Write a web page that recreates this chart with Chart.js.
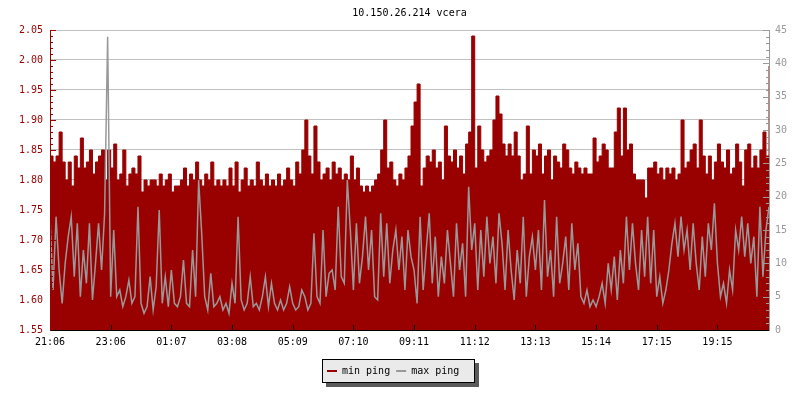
<!DOCTYPE html>
<html>
<head>
<meta charset="utf-8">
<script src="https://cdn.jsdelivr.net/npm/chart.js@4.4.0/dist/chart.umd.min.js"></script>
<style>
html, body { margin: 0; padding: 0; background: #fff; }
#c { display: block; }
</style>
</head>
<body>
<canvas id="c" width="800" height="400"></canvas>
<script>
// one sample = 6 minutes, one labelled tick = 20 samples
var chartTitle = '10.150.26.214 vcera';
var timeLabels = ['21:06', '23:06', '01:07', '03:08', '05:09', '07:10', '09:11', '11:12', '13:13', '15:14', '17:15', '19:15'];
var leftTicks = [1.55, 1.60, 1.65, 1.70, 1.75, 1.80, 1.85, 1.90, 1.95, 2.00, 2.05];
var rightTicks = [0, 5, 10, 15, 20, 25, 30, 35, 40, 45];

var minPing = [
  1.84, 1.83, 1.84, 1.88, 1.83, 1.80, 1.83, 1.79, 1.84, 1.82, 1.87, 1.82, 1.83, 1.85, 1.81, 1.83, 1.84, 1.85, 1.80, 1.85,
  1.82, 1.86, 1.80, 1.81, 1.85, 1.79, 1.81, 1.82, 1.81, 1.84, 1.78, 1.80, 1.79, 1.80, 1.80, 1.79, 1.81, 1.79, 1.80, 1.81,
  1.78, 1.79, 1.79, 1.80, 1.82, 1.79, 1.81, 1.80, 1.83, 1.80, 1.79, 1.81, 1.80, 1.83, 1.79, 1.80, 1.79, 1.80, 1.79, 1.82,
  1.79, 1.83, 1.78, 1.80, 1.82, 1.79, 1.80, 1.79, 1.83, 1.80, 1.79, 1.81, 1.79, 1.80, 1.79, 1.81, 1.79, 1.80, 1.82, 1.80,
  1.79, 1.83, 1.81, 1.85, 1.90, 1.84, 1.81, 1.89, 1.83, 1.80, 1.81, 1.82, 1.80, 1.83, 1.81, 1.82, 1.80, 1.81, 1.80, 1.84,
  1.80, 1.82, 1.79, 1.78, 1.79, 1.78, 1.79, 1.80, 1.81, 1.85, 1.90, 1.82, 1.83, 1.80, 1.79, 1.81, 1.80, 1.82, 1.84, 1.89,
  1.93, 1.96, 1.79, 1.82, 1.84, 1.83, 1.85, 1.82, 1.83, 1.80, 1.89, 1.84, 1.83, 1.85, 1.82, 1.84, 1.81, 1.86, 1.88, 2.04,
  1.82, 1.89, 1.85, 1.83, 1.84, 1.85, 1.90, 1.94, 1.91, 1.86, 1.84, 1.86, 1.84, 1.88, 1.84, 1.80, 1.81, 1.89, 1.81, 1.85,
  1.84, 1.86, 1.81, 1.84, 1.85, 1.80, 1.84, 1.83, 1.82, 1.86, 1.85, 1.82, 1.81, 1.83, 1.82, 1.81, 1.82, 1.81, 1.81, 1.87,
  1.83, 1.84, 1.86, 1.85, 1.82, 1.82, 1.88, 1.92, 1.84, 1.92, 1.85, 1.86, 1.81, 1.80, 1.80, 1.80, 1.77, 1.82, 1.82, 1.83,
  1.81, 1.82, 1.80, 1.82, 1.81, 1.82, 1.80, 1.81, 1.90, 1.82, 1.83, 1.85, 1.86, 1.82, 1.90, 1.84, 1.81, 1.84, 1.80, 1.83,
  1.86, 1.83, 1.82, 1.85, 1.81, 1.82, 1.86, 1.83, 1.79, 1.85, 1.86, 1.82, 1.84, 1.82, 1.85, 1.88, 1.84, 1.99
];

var maxPing = [
  17, 6, 17, 9, 4, 10, 14, 17, 8, 16, 5, 12, 7, 16, 4.5, 10, 16, 9, 17.5, 44,
  5, 15, 5, 6, 3.5, 5, 7.5, 4, 5, 18.5, 4, 2.5, 3.5, 8, 3, 6.5, 18, 4, 8, 3.5,
  9, 4, 3.5, 5, 10.5, 4, 3.5, 12, 5, 22.5, 14.5, 5, 3, 8.5, 3.5, 4, 5, 3, 4, 2.5,
  7, 4, 17, 4.5, 3, 4, 8, 3.5, 4, 3, 5, 8, 3.5, 7, 4, 3, 4.5, 3, 4, 6.5,
  4, 3, 3.5, 6, 5, 3, 4, 14.5, 5, 4, 15, 5, 8.5, 9, 6, 18.5, 8, 7, 22.5, 15,
  6, 16, 7, 11, 17, 9, 15, 5, 4.5, 17.5, 8, 16, 7, 12, 15, 9, 14, 6, 15, 11,
  9, 4, 17, 6, 12, 17.5, 7, 14, 5, 11, 7, 15, 10, 5, 16, 9, 13, 5, 21.5, 12,
  16, 6, 15, 8, 17, 10, 14, 7, 17.5, 13, 6, 15, 9, 4.5, 12, 7, 17, 5, 11, 14,
  9, 15, 6, 19.5, 8, 12, 5, 17, 7, 10, 14, 6, 16, 9, 13, 5, 4, 6, 3.5, 4.5,
  3.5, 5, 7, 4, 10, 6, 11, 4.5, 12, 7, 17, 9, 16, 10, 6, 15, 8, 17, 7, 15,
  5, 8, 4, 6, 9, 13, 16, 11, 17, 12, 15, 9, 16, 10, 6, 14, 8, 16, 12, 19,
  10, 5, 7, 4, 9, 6, 15, 12, 17, 11, 16, 10, 14, 5, 18.5, 8, 15, 18.5
];

var RED = '#990000';
var GREY = '#999999';
var FONT = 'DejaVu Sans Mono';

function points(arr) {
  return arr.map(function (v, i) { return { x: i, y: v }; });
}

// title centred over the plot, not the canvas
var plotTitle = {
  id: 'plotTitle',
  afterDraw: function (chart) {
    var ctx = chart.ctx, a = chart.chartArea;
    ctx.save();
    ctx.font = '10px "' + FONT + '"';
    ctx.fillStyle = '#000';
    ctx.textAlign = 'center';
    ctx.textBaseline = 'middle';
    ctx.fillText(chartTitle, (a.left + a.right) / 2, 13);
    ctx.restore();
  }
};

// short tick marks pointing into the plot, major + 4 minor per step
var innerTicks = {
  id: 'innerTicks',
  afterDatasetsDraw: function (chart) {
    var ctx = chart.ctx, a = chart.chartArea;
    var ys = chart.scales.y, y2 = chart.scales.y2, xs = chart.scales.x;
    var k, py, px;
    ctx.save();
    ctx.lineWidth = 1;

    var ls = (leftTicks[1] - leftTicks[0]) / 5;
    ctx.strokeStyle = RED;
    ctx.beginPath();
    for (k = 0; k <= (leftTicks.length - 1) * 5; k++) {
      py = Math.round(ys.getPixelForValue(leftTicks[0] + k * ls)) + 0.5;
      ctx.moveTo(a.left, py);
      ctx.lineTo(a.left + (k % 5 ? 3 : 6), py);
    }
    ctx.stroke();

    var rs = (rightTicks[1] - rightTicks[0]) / 5;
    ctx.strokeStyle = GREY;
    ctx.beginPath();
    for (k = 0; k <= (rightTicks.length - 1) * 5; k++) {
      py = Math.round(y2.getPixelForValue(rightTicks[0] + k * rs)) + 0.5;
      ctx.moveTo(a.right, py);
      ctx.lineTo(a.right - (k % 5 ? 3 : 6), py);
    }
    ctx.stroke();

    ctx.strokeStyle = '#000';
    ctx.beginPath();
    for (k = 0; k < timeLabels.length; k++) {
      px = Math.round(xs.getPixelForValue(k * 20)) + 0.5;
      ctx.moveTo(px, a.bottom);
      ctx.lineTo(px, a.bottom - 5);
    }
    ctx.stroke();
    ctx.restore();
  }
};

// framed legend with drop shadow below the plot
var boxLegend = {
  id: 'boxLegend',
  afterDraw: function (chart) {
    var ctx = chart.ctx;
    var x = 322, y = 359, w = 153, h = 24;
    ctx.save();
    ctx.fillStyle = '#5a5a5a';
    ctx.fillRect(x + 4, y + 4, w, h);
    ctx.fillStyle = '#eaeaea';
    ctx.fillRect(x, y, w, h);
    ctx.strokeStyle = '#000';
    ctx.lineWidth = 1;
    ctx.strokeRect(x + 0.5, y + 0.5, w - 1, h - 1);
    ctx.font = '10px "' + FONT + '"';
    ctx.textBaseline = 'middle';
    var cx = x + 5, cy = y + 12;
    chart.data.datasets.forEach(function (ds) {
      ctx.strokeStyle = ds.borderColor;
      ctx.lineWidth = 2;
      ctx.beginPath();
      ctx.moveTo(cx, cy);
      ctx.lineTo(cx + 10, cy);
      ctx.stroke();
      ctx.fillStyle = '#000';
      ctx.fillText(ds.label, cx + 15, cy);
      cx += 15 + ctx.measureText(ds.label).width + 6;
    });
    ctx.restore();
  }
};

new Chart(document.getElementById('c'), {
  type: 'line',
  data: {
    datasets: [
      {
        label: 'min ping',
        data: points(minPing),
        yAxisID: 'y',
        borderColor: RED,
        backgroundColor: RED,
        borderWidth: 1,
        pointRadius: 0,
        stepped: true,
        fill: 'start',
        order: 2
      },
      {
        label: 'max ping',
        data: points(maxPing),
        yAxisID: 'y2',
        borderColor: GREY,
        backgroundColor: GREY,
        borderWidth: 1.5,
        pointRadius: 0,
        tension: 0,
        fill: false,
        order: 1
      }
    ]
  },
  options: {
    responsive: false,
    animation: false,
    layout: { padding: { top: 30, left: 0, right: 0, bottom: 45 } },
    plugins: {
      legend: { display: false },
      tooltip: { enabled: false },
      title: { display: false }
    },
    scales: {
      x: {
        type: 'linear',
        min: 0,
        max: minPing.length - 1,
        afterBuildTicks: function (s) {
          s.ticks = timeLabels.map(function (t, i) { return { value: i * 20 }; });
        },
        afterFit: function (s) { s.height = 25; },
        ticks: {
          autoSkip: false,
          maxRotation: 0,
          color: '#000',
          padding: 6,
          font: { family: FONT, size: 10 },
          callback: function (v) { return timeLabels[Math.round(v / 20)]; }
        },
        grid: { display: false, drawTicks: false },
        border: { display: true, color: '#000', z: 1 }
      },
      y: {
        position: 'left',
        min: leftTicks[0],
        max: leftTicks[leftTicks.length - 1],
        afterBuildTicks: function (s) {
          s.ticks = leftTicks.map(function (v) { return { value: v }; });
        },
        afterFit: function (s) { s.width = 50; },
        ticks: {
          color: RED,
          padding: 7,
          font: { family: FONT, size: 10 },
          callback: function (v) { return v.toFixed(2); }
        },
        grid: { color: '#c0c0c0', drawTicks: false },
        border: { display: true, color: RED, z: 1 }
      },
      y2: {
        position: 'right',
        min: rightTicks[0],
        max: rightTicks[rightTicks.length - 1],
        afterBuildTicks: function (s) {
          s.ticks = rightTicks.map(function (v) { return { value: v }; });
        },
        afterFit: function (s) { s.width = 31; },
        ticks: {
          color: GREY,
          padding: 6,
          font: { family: FONT, size: 10 },
          callback: function (v) { return String(v); }
        },
        grid: { drawOnChartArea: false, drawTicks: false },
        border: { display: true, color: GREY, z: 1 }
      }
    }
  },
  plugins: [plotTitle, innerTicks, boxLegend]
});
</script>
</body>
</html>
